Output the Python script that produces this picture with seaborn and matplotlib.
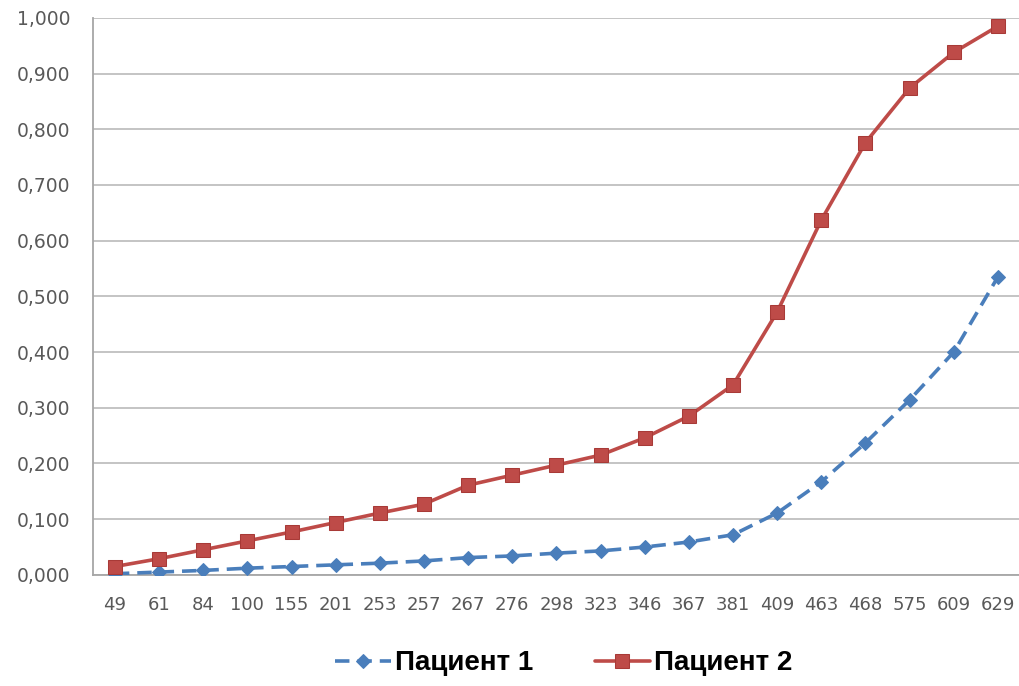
import matplotlib
matplotlib.use("Agg")
import matplotlib.pyplot as plt
import matplotlib.ticker as mticker
import seaborn as sns
import pandas as pd

categories = ["49", "61", "84", "100", "155", "201", "253", "257", "267", "276", "298",
              "323", "346", "367", "381", "409", "463", "468", "575", "609", "629"]
patient1 = [0.002, 0.005, 0.008, 0.012, 0.015, 0.018, 0.021, 0.025, 0.031, 0.034, 0.039,
            0.043, 0.050, 0.059, 0.072, 0.111, 0.167, 0.237, 0.314, 0.400, 0.535]
patient2 = [0.015, 0.029, 0.045, 0.061, 0.077, 0.094, 0.111, 0.127, 0.161, 0.179, 0.197,
            0.215, 0.246, 0.285, 0.341, 0.472, 0.637, 0.776, 0.874, 0.938, 0.985]
series_names = ["Пациент 1", "Пациент 2"]
yticks = [0.0, 0.1, 0.2, 0.3, 0.4, 0.5, 0.6, 0.7, 0.8, 0.9, 1.0]

sns.set_style("white")
plt.rcParams['font.family'] = ['DejaVu Sans']

pos = list(range(len(categories)))
df1 = pd.DataFrame({"x": pos, "y": patient1})
df2 = pd.DataFrame({"x": pos, "y": patient2})

fig = plt.figure(figsize=(10.2, 6.86), dpi=100)
ax = fig.add_axes([0.091, 0.162, 0.909, 0.812])

blue = "#4A7EBB"
red = "#BE4B48"

sns.lineplot(data=df1, x="x", y="y", ax=ax, color=blue, linewidth=2.6,
             marker="D", markersize=7, markeredgecolor=blue, markerfacecolor=blue,
             dashes=False, linestyle=(0, (4, 2.2)), label=series_names[0], zorder=3)
sns.lineplot(data=df2, x="x", y="y", ax=ax, color=red, linewidth=2.6,
             marker="s", markersize=10, markeredgecolor="#A83A37", markerfacecolor=red,
             label=series_names[1], zorder=4)

ax.set_xlim(-0.5, len(categories) - 0.5)
ax.set_ylim(0, 1.0)
ax.set_yticks(yticks)
ax.yaxis.set_major_formatter(mticker.FuncFormatter(lambda v, p: f"{v:.3f}".replace(".", ",")))
ax.set_xticks(pos)
ax.set_xticklabels(categories)
ax.xaxis.set_minor_locator(mticker.FixedLocator([p + 0.5 for p in pos[:-1]] + [-0.5]))
ax.grid(axis="y", color="#BFBFBF", linewidth=1.3)
ax.set_axisbelow(True)
for s in ["top", "right"]:
    ax.spines[s].set_visible(False)
for s in ["left", "bottom"]:
    ax.spines[s].set_color("#A6A6A6")
    ax.spines[s].set_linewidth(1.3)
ax.tick_params(axis="y", which="major", length=6, width=1.2, color="#A6A6A6",
               labelsize=13.5, labelcolor="#595959", pad=10)
ax.tick_params(axis="x", which="major", length=0, labelsize=13, labelcolor="#595959", pad=15)
ax.tick_params(axis="x", which="minor", length=6, width=1.2, color="#A6A6A6", direction="out")
ax.set_xlabel("")
ax.set_ylabel("")

handles, labels = ax.get_legend_handles_labels()
ax.get_legend().remove()
leg = fig.legend(handles, labels, loc="center", bbox_to_anchor=(0.553, 0.033), ncol=2,
                 frameon=False, handlelength=2.0, columnspacing=2.2, handletextpad=0.15,
                 prop={"family": "Liberation Sans", "weight": "bold", "size": 20})
for t in leg.get_texts():
    t.set_color("black")

fig.savefig("out.png", dpi=100)
